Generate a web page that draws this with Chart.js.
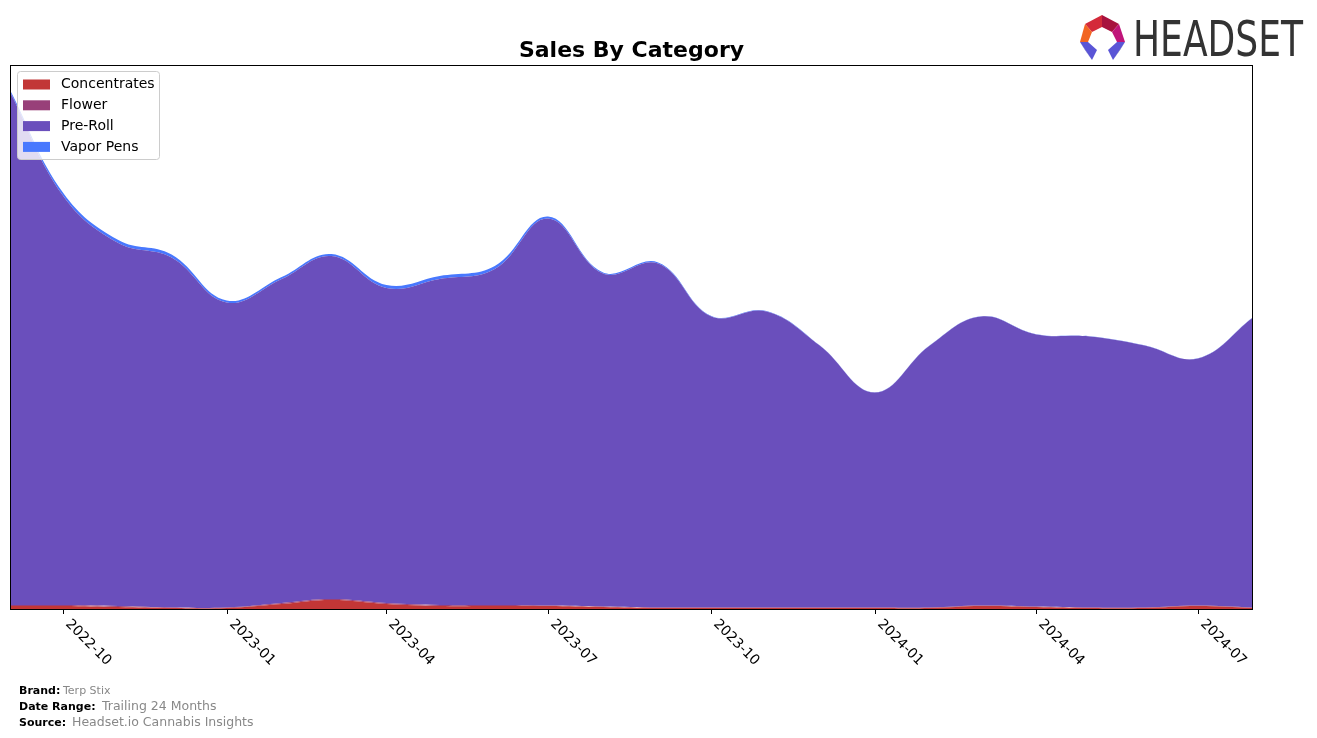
<!DOCTYPE html>
<html>
<head>
<meta charset="utf-8">
<script src="https://cdn.jsdelivr.net/npm/chart.js@4.4.1/dist/chart.umd.min.js"></script>
<style>
  html, body { margin: 0; padding: 0; background: #fff; }
  #wrap { position: relative; width: 1317px; height: 738px; }
</style>
</head>
<body>
<div id="wrap"><canvas id="canvas"></canvas></div>
<script>
// monthly points, Sep 2022 .. Aug 2024
const months = ['2022-09', '2022-10', '2022-11', '2022-12', '2023-01', '2023-02', '2023-03', '2023-04',
    '2023-05', '2023-06', '2023-07', '2023-08', '2023-09', '2023-10', '2023-11', '2023-12',
    '2024-01', '2024-02', '2024-03', '2024-04', '2024-05', '2024-06', '2024-07', '2024-08'];
const tickLabels = ['2022-10', '2023-01', '2023-04', '2023-07', '2023-10', '2024-01', '2024-04', '2024-07'];

const concentrates = [3, 3, 2, 1, 1, 5, 9, 5, 3, 3, 3, 2, 1, 1, 1, 1, 1, 1, 3, 2, 1, 1, 3, 1];
const flower = [1, 1, 1, 0.5, 0.5, 1, 1, 1, 1, 1, 0.5, 0.5, 0.5, 0.5, 0.5, 0.5, 0.5, 0.5, 0.5, 0.5, 0.5, 0.5, 0.5, 0.5];
const preRoll = [513, 409, 363, 350, 305, 324, 343, 315, 326, 336, 387, 333, 344, 291, 296, 262,
    215, 262, 289, 272, 271, 262, 247, 290];
const vaporPens = [2, 3, 3, 3, 2, 2, 2, 3, 3, 3, 2, 1, 1, 0.5, 0.5, 0.3, 0.3, 0.3, 0.3, 0.3, 0.3, 0.3, 0.3, 0.3];

const colors = {
    concentrates: '#c23636',
    flower: '#984079',
    preRoll: '#6a4fbc',
    vaporPens: '#4878fe'
};

function dayOf(month) {
    const [y, m] = month.split('-').map(Number);
    return Date.UTC(y, m - 1, 1) / 86400000;
}

function toPoints(values) {
    return values.map((v, i) => ({ x: dayOf(months[i]), y: v }));
}

function makeDataset(label, values, color, fill) {
    return {
        label: label,
        data: toPoints(values),
        backgroundColor: color,
        borderColor: color,
        borderWidth: 0,
        pointRadius: 0,
        fill: fill,
        tension: 0.4
    };
}

const decorations = {
    id: 'decorations',
    afterDraw(chart) {
        const ctx = chart.ctx;
        const area = chart.chartArea;
        const xScale = chart.scales.x;
        ctx.save();

        // frame
        ctx.strokeStyle = '#000';
        ctx.lineWidth = 1;
        ctx.strokeRect(area.left + 0.5, area.top + 0.5, area.right - area.left - 1, area.bottom - area.top);

        // ticks + rotated labels
        ctx.font = '14px "DejaVu Sans"';
        ctx.fillStyle = '#000';
        ctx.textAlign = 'left';
        ctx.textBaseline = 'top';
        tickLabels.forEach(label => {
            const x = Math.round(xScale.getPixelForValue(dayOf(label))) + 0.5;
            ctx.beginPath();
            ctx.moveTo(x, area.bottom);
            ctx.lineTo(x, area.bottom + 5);
            ctx.stroke();
            ctx.save();
            ctx.translate(x + 9, area.bottom + 8);
            ctx.rotate(Math.PI / 4);
            ctx.fillText(label, 0, 0);
            ctx.restore();
        });

        // title
        ctx.font = 'bold 22px "DejaVu Sans"';
        ctx.textAlign = 'center';
        ctx.textBaseline = 'alphabetic';
        ctx.fillText('Sales By Category', (area.left + area.right) / 2, 57);

        // legend
        const items = [
            ['Concentrates', colors.concentrates],
            ['Flower', colors.flower],
            ['Pre-Roll', colors.preRoll],
            ['Vapor Pens', colors.vaporPens]
        ];
        ctx.beginPath();
        ctx.roundRect(17.5, 71.5, 142, 88, 3);
        ctx.fillStyle = 'rgba(255,255,255,0.8)';
        ctx.fill();
        ctx.strokeStyle = '#cccccc';
        ctx.stroke();
        ctx.font = '14px "DejaVu Sans"';
        ctx.textAlign = 'left';
        ctx.textBaseline = 'middle';
        items.forEach(([label, color], i) => {
            const cy = 84.5 + i * 20.8;
            ctx.fillStyle = color;
            ctx.fillRect(23, cy - 5, 27, 10);
            ctx.fillStyle = '#000';
            ctx.fillText(label, 61, cy);
        });

        // footer
        const footer = [
            ['Brand:', 'Terp Stix', 694, 63, 11],
            ['Date Range:', 'Trailing 24 Months', 710, 102, 12.5],
            ['Source:', 'Headset.io Cannabis Insights', 726, 72, 12.5]
        ];
        ctx.textBaseline = 'alphabetic';
        footer.forEach(([key, value, y, vx, size]) => {
            ctx.font = 'bold 11px "DejaVu Sans"';
            ctx.fillStyle = '#000';
            ctx.fillText(key, 19, y);
            ctx.font = size + 'px "DejaVu Sans"';
            ctx.fillStyle = '#888';
            ctx.fillText(value, vx, y);
        });

        // logo
        drawLogo(ctx);
        ctx.restore();
    }
};

function drawLogo(ctx) {
    const poly = (pts, color) => {
        ctx.beginPath();
        ctx.moveTo(pts[0][0], pts[0][1]);
        pts.slice(1).forEach(p => ctx.lineTo(p[0], p[1]));
        ctx.closePath();
        ctx.fillStyle = color;
        ctx.fill();
    };
    poly([[1085, 24], [1102, 15], [1102, 27], [1092, 32]], '#d42a3a');
    poly([[1102, 15], [1119, 24], [1112, 32], [1102, 27]], '#a8123e');
    poly([[1119, 24], [1125, 42], [1117, 42], [1112, 32]], '#c0157a');
    poly([[1085, 24], [1092, 32], [1088, 42], [1080, 42]], '#f26522');
    poly([[1080, 42], [1088, 42], [1097, 50], [1092, 60]], '#5a55d6');
    poly([[1080, 42], [1092, 60], [1085, 50]], '#3b3aa8');
    poly([[1125, 42], [1117, 42], [1108, 50], [1113, 60]], '#5a55d6');
    poly([[1125, 42], [1113, 60], [1120, 50]], '#2d2c8c');

    ctx.save();
    ctx.font = '49px "Liberation Sans Narrow", "DejaVu Sans Condensed", "DejaVu Sans"';
    ctx.fillStyle = '#333333';
    ctx.textAlign = 'left';
    ctx.textBaseline = 'alphabetic';
    const w = ctx.measureText('HEADSET').width;
    ctx.translate(1133, 56);
    ctx.scale(170 / w, 1);
    ctx.fillText('HEADSET', 0, 0);
    ctx.restore();
}

const config = {
    type: 'line',
    data: {
        datasets: [
            makeDataset('Concentrates', concentrates, colors.concentrates, 'origin'),
            makeDataset('Flower', flower, colors.flower, '-1'),
            makeDataset('Pre-Roll', preRoll, colors.preRoll, '-1'),
            makeDataset('Vapor Pens', vaporPens, colors.vaporPens, '-1')
        ]
    },
    options: {
        responsive: true,
        maintainAspectRatio: false,
        animation: false,
        layout: {
            padding: { left: 10, top: 65, right: 64, bottom: 129 }
        },
        scales: {
            x: {
                type: 'linear',
                display: false,
                min: dayOf(months[0]),
                max: dayOf(months[months.length - 1])
            },
            y: {
                display: false,
                stacked: true,
                min: 0,
                max: 544
            }
        },
        plugins: {
            legend: { display: false },
            tooltip: { enabled: false }
        }
    },
    plugins: [decorations]
};

const ctx = document.getElementById('canvas');
const chart = new Chart(ctx, config);
</script>
</body>
</html>
